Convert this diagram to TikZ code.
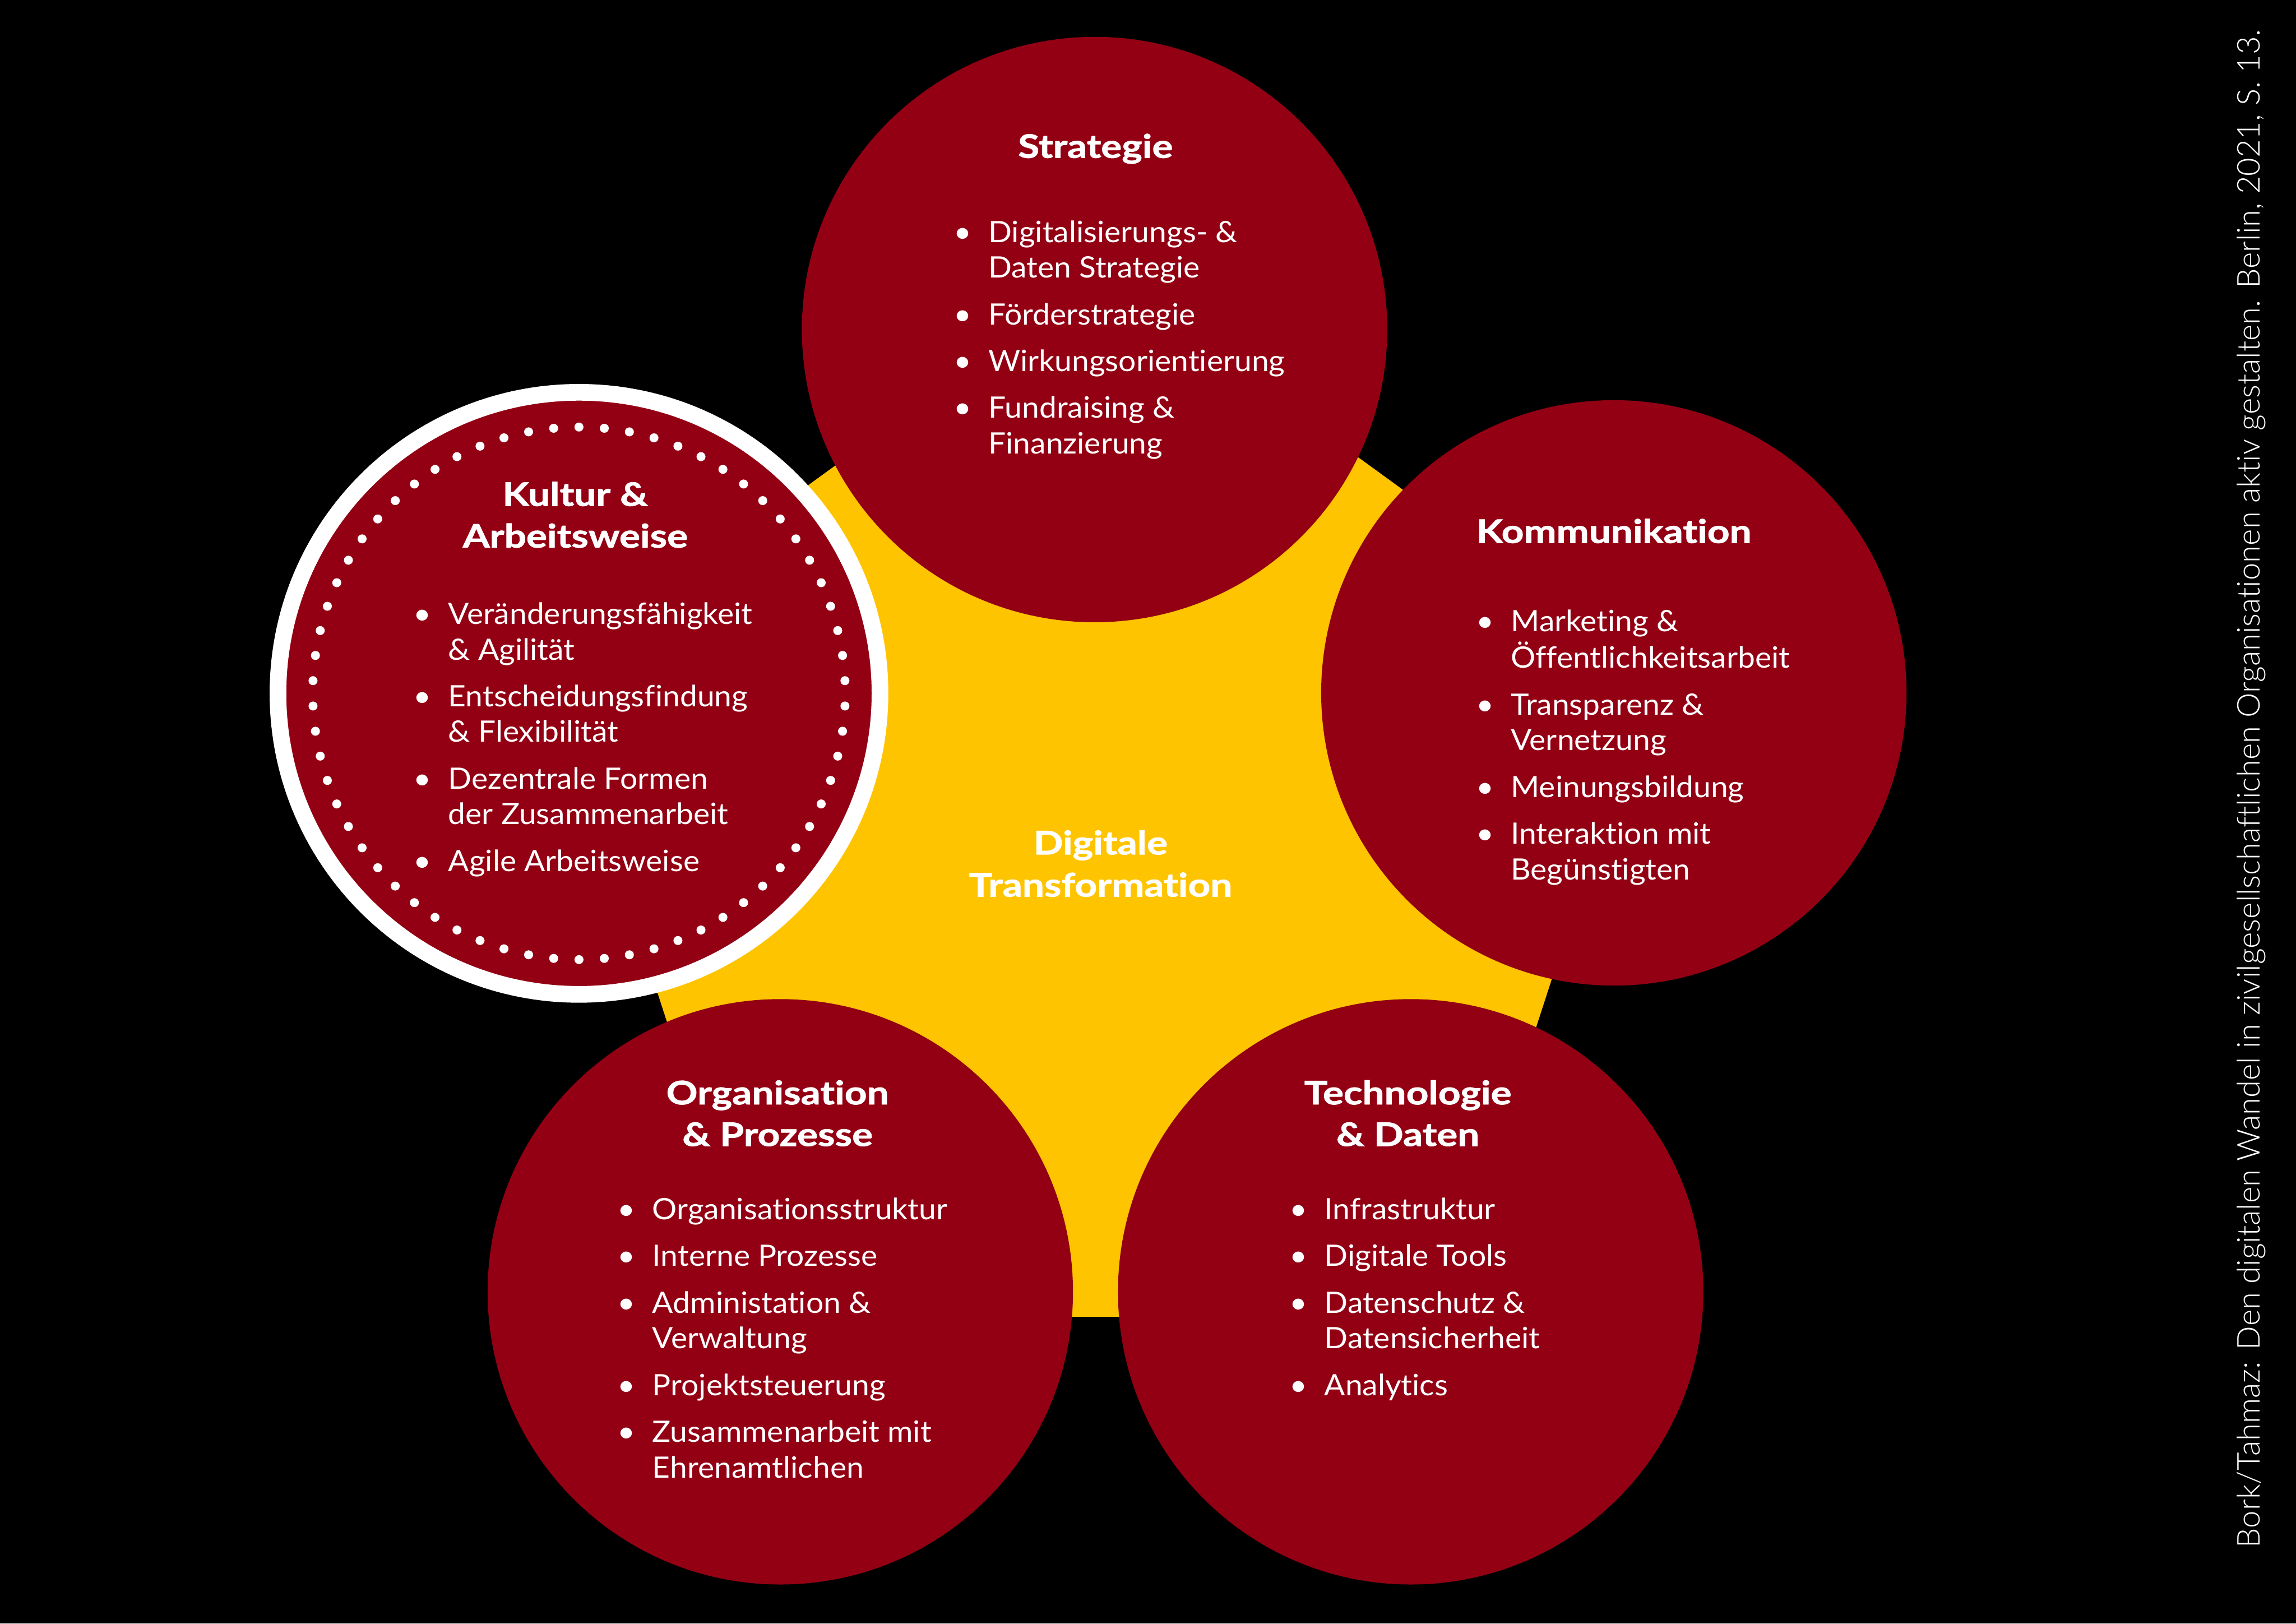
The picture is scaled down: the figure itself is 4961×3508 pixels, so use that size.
\documentclass[tikz,border=0pt]{standalone}
\usepackage{fontspec}
\setmainfont{Lato}[Ligatures=NoCommon, FakeStretch=1.05]
\newfontfamily\headfont{Lato}[Ligatures=NoCommon, FakeStretch=1.2, BoldFeatures={FakeBold=1.5}]
\newfontfamily\citefont{Lato Light}[Ligatures=NoCommon]
\definecolor{dred}{RGB}{147,0,20}
\definecolor{dyel}{RGB}{255,196,0}
\newlength\bulw \setlength\bulw{0.56cm}
\newcommand\bul{\makebox[\bulw][l]{\makebox[0pt]{\textbullet}}}
\newcommand\ind{\hspace*{\bulw}}
\newcommand\ig{\\[6.8pt]}
\tikzset{
  redcirc/.style={circle, fill=dred, inner sep=0pt, minimum size=12.64cm},
  bulletlist/.style={text=white, inner sep=0pt, anchor=base west, font=\fontsize{18.1}{21.9}\selectfont},
  headtext/.style={text=white, inner sep=0pt, anchor=base, font=\headfont\fontsize{19.9}{25.6}\selectfont\bfseries},
  centertext/.style={text=white, inner sep=0pt, anchor=base, font=\headfont\fontsize{19.9}{25.9}\selectfont\bfseries},
}
\begin{document}
\begin{tikzpicture}[x=0.01cm,y=-0.01cm]
\fill[black] (0,0) rectangle (4961,3508);
\useasboundingbox (0,0) rectangle (4961,3508);
% yellow pentagon
\fill[dyel] (2382,586.5) -- (3569.4,1449.2) -- (3115.8,2845) -- (1648.2,2845) -- (1194.6,1449.2) -- cycle;
% circles
\node[redcirc] (strat) at (2365,712) {};
\node[redcirc] (komm) at (3487,1497) {};
\node[redcirc] (tech) at (3048,2791) {};
\node[redcirc] (orga) at (1686,2791) {};
\node[redcirc, draw=white, line width=0.36cm, minimum size=13.0cm] (kult) at (1251,1498) {};
\foreach \i in {0,...,65}
  \fill[white] (kult.center) ++({90+\i*5.454545}:5.75cm) circle (0.097cm);
% headings
\node[headtext] (hstrat) at (2367,341) {Strategie};
\node[headtext] (hkomm) at (3487,1173) {Kommunikation};
\node[headtext] (htech) at (3042,2386) {\begin{tabular}[t]{@{}c@{}}Technologie\\ \& Daten\end{tabular}};
\node[headtext] (horga) at (1680,2386) {\begin{tabular}[t]{@{}c@{}}Organisation\\ \& Prozesse\end{tabular}};
\node[headtext] (hkult) at (1243,1093) {\begin{tabular}[t]{@{}c@{}}Kultur \&\\ Arbeitsweise\end{tabular}};
\node[centertext] (center) at (2378,1846) {\begin{tabular}[t]{@{}c@{}}Digitale\\ Transformation\end{tabular}};
% lists
\node[bulletlist] (lstrat) at (2079,523.5) {\begin{tabular}[t]{@{}l@{}}
\bul Digitalisierungs- \&\\ \ind Daten Strategie\ig
\bul Förderstrategie\ig
\bul Wirkungsorientierung\ig
\bul Fundraising \&\\ \ind Finanzierung
\end{tabular}};
\node[bulletlist] (lkomm) at (3208,1364) {\begin{tabular}[t]{@{}l@{}}
\bul Marketing \&\\ \ind Öffentlichkeitsarbeit\ig
\bul Transparenz \&\\ \ind Vernetzung\ig
\bul Meinungsbildung\ig
\bul Interaktion mit\\ \ind Begünstigten
\end{tabular}};
\node[bulletlist] (ltech) at (2805,2635) {\begin{tabular}[t]{@{}l@{}}
\bul Infrastruktur\ig
\bul Digitale Tools\ig
\bul Datenschutz \&\\ \ind Datensicherheit\ig
\bul Analytics
\end{tabular}};
\node[bulletlist] (lorga) at (1353,2635) {\begin{tabular}[t]{@{}l@{}}
\bul Organisationsstruktur\ig
\bul Interne Prozesse\ig
\bul Administation \&\\ \ind Verwaltung\ig
\bul Projektsteuerung\ig
\bul Zusammenarbeit mit\\ \ind Ehrenamtlichen
\end{tabular}};
\node[bulletlist] (lkult) at (912,1348.6) {\begin{tabular}[t]{@{}l@{}}
\bul Veränderungsfähigkeit\\ \ind \& Agilität\ig
\bul Entscheidungsfindung\\ \ind \& Flexibilität\ig
\bul Dezentrale Formen\\ \ind der Zusammenarbeit\ig
\bul Agile Arbeitsweise
\end{tabular}};
% citation
\node[text=white, inner sep=0pt, rotate=90, anchor=base west] (cite) at (4883,3345)
  {\resizebox{32.78cm}{!}{\citefont\fontsize{18}{20}\selectfont Bork/Tahmaz: Den digitalen Wandel in zivilgesellschaftlichen Organisationen aktiv gestalten. Berlin, 2021, S.~13.}};
\end{tikzpicture}
\end{document}
